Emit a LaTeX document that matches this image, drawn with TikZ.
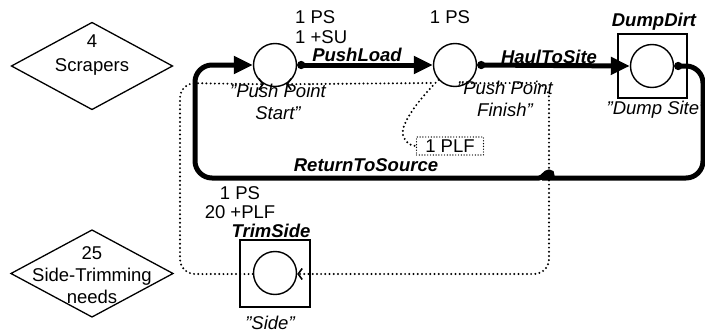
\documentclass[tikz,border=0pt]{standalone}
\usepackage{fontspec}
\setmainfont{Liberation Sans}
\usetikzlibrary{arrows.meta}
\begin{document}
\begin{tikzpicture}[x=1pt,y=-1pt,
  every node/.style={font=\fontsize{18.5}{21}\selectfont, inner sep=0pt, align=center},
  trans/.style={font=\fontsize{18.5}{21}\selectfont\bfseries\itshape},
  plc/.style={font=\fontsize{18.5}{22}\selectfont\itshape},
  place/.style={draw, circle, line width=1.4pt, minimum size=43pt},
  tbox/.style={draw, line width=1.2pt, minimum width=69pt, minimum height=64pt},
  rhomb/.style={line width=1.3pt},
  flow/.style={line width=5pt, arrows={Circle[length=8pt]-Triangle[length=19pt,width=17pt]}},
  dots/.style={line width=2.2pt, dash pattern=on 0pt off 4.2pt, line cap=round},
  fine/.style={line width=1.4pt, dash pattern=on 0pt off 2.8pt, line cap=round},
  barbtip/.style={arrows={-Straight Barb[length=4pt,width=11pt,line width=1.6pt]}},
  barbstart/.style={arrows={Straight Barb[length=4pt,width=11pt,line width=1.6pt]-}}
]
\useasboundingbox (0,0) rectangle (705,332);

% resource diamonds
\coordinate (scrD) at (92,66);
\draw[rhomb] (scrD) +(-80.5,0) -- +(0,-43.5) -- +(80.5,0) -- +(0,43.5) -- cycle;
\node[font=\fontsize{18.5}{24}\selectfont] (scr) at (92,55) {4\\Scrapers};

\coordinate (trimD) at (92,273.5);
\draw[rhomb] (trimD) +(-81,0) -- +(0,-43.5) -- +(81,0) -- +(0,43.5) -- cycle;
\node[font=\fontsize{18.5}{22}\selectfont] (trim) at (92,275) {25\\Side-Trimming\\needs};

% places and boxes
\node[place] (pps) at (275,65) {};
\node[place] (ppf) at (455,65) {};
\node[tbox] (dumpbox) at (652.5,66) {};
\node[place] (dump) at (652,66) {};
\node[tbox, minimum width=70pt, minimum height=67pt] (sidebox) at (275,273.5) {};
\node[place] (side) at (275,273) {};
\node[draw, fine, minimum width=67pt, minimum height=18pt] (plf) at (450,146) {1 PLF};

% labels
\node[anchor=west, align=left, font=\fontsize{18.5}{20}\selectfont] (ppsin) at (295,27) {1 PS\\1 +SU};
\node[trans] (pushload) at (357,55) {PushLoad};
\node (ppfin) at (450,17) {1 PS};
\node[trans] (haul) at (549,57) {HaulToSite};
\node[trans] (dumpdirt) at (654,22) {DumpDirt};
\node[plc] (dumpname) at (656,110) {"Dump Site"};
\node[plc] (ppfname) at (505,99) {"Push Point\\Finish"};
\node[plc] (ppsname) at (278,102) {"Push Point\\Start"};
\node[trans] (ret) at (366,165) {ReturnToSource};
\node[font=\fontsize{18.5}{19}\selectfont] (sidein) at (240,203) {1 PS\\20 +PLF};
\node[trans] (trimside) at (271,231) {TrimSide};
\node[plc] (sidename) at (270,323) {"Side"};

% dotted connectors
\coordinate (tl) at (180,83);
\coordinate (bl) at (180,274);
\coordinate (tr) at (549,83);
\coordinate (br) at (549,274);
\coordinate (pj) at (432,83);
\draw[dots, barbtip, rounded corners=15pt] (side.west |- bl) -- (bl) -- (tl) -- (pps.240);
\draw[dots, barbstart] (pps.300) -- (pj);
\draw[dots] (ppf.222) .. controls (418,100) and (400,125) .. (403,135) .. controls (405,142) and (410,146) .. (plf.west);
\draw[dots, barbtip, rounded corners=15pt] (ppf.305) -- (tr) -- (br) -- (side.east |- br);

% thick flow connectors
\draw[flow] (pps.east) -- (ppf.west);
\draw[flow] (ppf.east) -- (dump.west);
\draw[flow, rounded corners=17pt] (dump.east) -- (703,66) -- (703,178) -- (559,178)
  [sharp corners] .. controls (555,178) and (553,172) .. (549,172) .. controls (545,172) and (543,178) .. (539,178)
  [rounded corners=17pt] -- (195,178) -- (195,65) -- (pps.west);
\end{tikzpicture}
\end{document}
